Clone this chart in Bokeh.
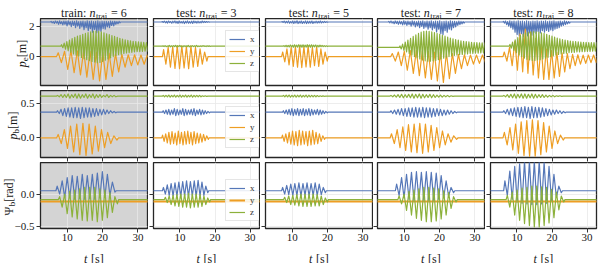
import math
from bokeh.plotting import figure
from bokeh.layouts import gridplot
from bokeh.models import Label, Legend, LegendItem, FixedTicker, Range1d
from bokeh.embed import file_html
from bokeh.resources import INLINE

# ---------------- data ----------------
N_TRAJ = [6, 3, 5, 7, 8]
SPLIT = ["train:", "test:", "test:", "test:", "test:"]
X_TICKS = [10, 20, 30]
X_RANGE = (2.44, 32.7)
ROW_YRANGE = [(-1.9, 2.5), (-0.28, 0.68), (-0.525, 0.48)]
ROW_YTICKS = [[0, 2], [0.0, 0.5], [-0.5, 0.0]]
ROW_YTICK_LABELS = [["0", "2"], ["0.0", "0.5"], ["\u22120.5", "0.0"]]
T_END = 35.0

# ---- row 1: p_e ----
pe_x_base = [2.27, 2.27, 2.27, 2.27, 2.27]
pe_x_on = [5.3, 4.8, 7.0, 5.5, 6.0]
pe_x_per = [0.6, 0.6, 0.6, 0.6, 0.6]
pe_x_up = [
    [2.31,2.3,2.33,2.31,2.34,2.3,2.33,2.32,2.35,2.3,2.33,2.31,2.34,2.3,2.32,2.33,2.3,2.34,2.31,2.33,2.3,2.32,2.34,2.3,2.33,2.31,2.32,2.3,2.33,2.31,2.32,2.3,2.31],
    [2.3,2.32,2.31,2.33,2.3,2.32,2.34,2.31,2.33,2.3,2.32,2.31,2.34,2.3,2.32,2.33,2.31,2.32,2.3,2.33,2.31,2.3,2.29],
    [2.3,2.32,2.31,2.34,2.3,2.33,2.32,2.35,2.31,2.33,2.3,2.34,2.32,2.31,2.33,2.3,2.32,2.31,2.33,2.3,2.31,2.29],
    [2.31,2.33,2.3,2.34,2.31,2.33,2.3,2.35,2.31,2.33,2.3,2.34,2.32,2.3,2.33,2.31,2.34,2.3,2.33,2.31,2.35,2.3,2.33,2.31,2.34,2.3,2.32,2.33,2.3,2.34,2.31,2.32,2.3,2.33,2.31,2.3],
    [2.31,2.33,2.3,2.34,2.31,2.33,2.3,2.35,2.31,2.33,2.3,2.34,2.32,2.3,2.33,2.31,2.34,2.3,2.33,2.31,2.35,2.3,2.33,2.31,2.34,2.3,2.32,2.33,2.3,2.34,2.31,2.3],
]
pe_x_low = [
    [2.22,2.18,2.2,2.12,2.16,2.08,2.12,2.02,2.1,1.96,2.05,1.9,2.0,1.85,1.95,1.76,1.9,1.7,1.84,1.6,1.78,1.56,1.72,1.66,1.84,1.8,1.95,1.9,2.04,2.02,2.12,2.16,2.22],
    [2.24,2.22,2.2,2.23,2.19,2.22,2.2,2.18,2.21,2.2,2.17,2.21,2.19,2.2,2.18,2.22,2.2,2.21,2.22,2.23,2.24,2.25,2.26],
    [2.24,2.21,2.22,2.19,2.21,2.18,2.2,2.17,2.2,2.18,2.2,2.17,2.19,2.2,2.18,2.21,2.2,2.22,2.21,2.23,2.24,2.25],
    [2.22,2.2,2.16,2.18,2.12,2.15,2.08,2.12,2.05,2.1,2.0,2.06,1.95,2.02,1.9,1.98,1.85,1.94,1.8,1.9,1.75,1.86,1.62,1.8,1.5,1.44,1.7,1.6,1.8,1.75,1.9,1.95,2.05,2.1,2.15,2.2],
    [2.2,2.1,2.0,1.9,1.8,1.6,1.45,1.35,1.5,1.3,1.45,1.35,1.55,1.4,1.6,1.5,1.65,1.55,1.7,1.6,1.72,1.65,1.75,1.7,1.8,1.85,1.9,2.0,2.05,2.1,2.15,2.2],
]
pe_y_base = [0.0, 0.0, 0.0, 0.0, 0.0]
pe_y_on = [7.0, 5.0, 7.0, 6.2, 6.0]
pe_y_per = [1.8, 1.3, 1.2, 1.7, 1.5]
pe_y_up = [
    [0.25,0.35,0.4,0.38,0.4,0.36,0.3,0.28,0.22,0.18,0.14,0.12,0.12,0.1,0.1],
    [0.45,0.6,0.65,0.7,0.7,0.65,0.7,0.6,0.5,0.3],
    [0.3,0.5,0.6,0.65,0.7,0.65,0.7,0.6,0.65,0.5,0.3],
    [0.2,0.3,0.35,0.4,0.4,0.38,0.35,0.3,0.28,0.25,0.2,0.15,0.12,0.1,0.1,0.1],
    [0.3,0.6,1.0,1.5,1.8,1.6,1.2,0.8,0.5,0.4,0.3,0.25,0.2,0.15,0.12,0.1,0.1,0.1],
]
pe_y_low = [
    [-0.4,-0.85,-1.05,-1.2,-1.35,-1.5,-1.6,-1.5,-1.3,-1.0,-0.7,-0.6,-0.55,-0.5,-0.5],
    [-0.5,-0.7,-0.78,-0.8,-0.75,-0.8,-0.7,-0.65,-0.5,-0.3],
    [-0.35,-0.55,-0.65,-0.7,-0.72,-0.68,-0.7,-0.6,-0.65,-0.5,-0.3],
    [-0.3,-0.6,-0.9,-1.1,-1.25,-1.4,-1.5,-1.6,-1.7,-1.45,-1.1,-0.8,-0.6,-0.5,-0.45,-0.4],
    [-0.3,-0.6,-0.9,-1.0,-1.1,-1.2,-1.4,-1.5,-1.5,-1.4,-1.3,-1.0,-0.8,-0.6,-0.5,-0.45,-0.4,-0.4],
]
pe_z_base = [0.68, 0.68, 0.68, 0.6, 0.68]
pe_z_on = [8.2, 5.0, 7.5, 8.6, 7.8]
pe_z_per = [0.75, 0.6, 0.6, 0.75, 0.75]
pe_z_up = [
    [0.78,0.88,0.98,1.08,1.18,1.26,1.34,1.4,1.46,1.52,1.58,1.62,1.66,1.68,1.66,1.62,1.56,1.5,1.44,1.38,1.32,1.26,1.2,1.15,1.1,1.06,1.04,1.0,0.98,0.96,0.95,0.94,0.92],
    [0.71,0.72,0.7,0.73,0.71,0.72,0.74,0.71,0.73,0.7,0.72,0.71,0.73,0.7,0.72,0.71,0.73,0.7,0.71,0.72,0.7,0.71,0.7],
    [0.72,0.74,0.73,0.76,0.74,0.77,0.75,0.78,0.76,0.77,0.75,0.78,0.76,0.77,0.75,0.76,0.74,0.75,0.73,0.72,0.71],
    [0.7,0.82,0.95,1.08,1.2,1.32,1.42,1.52,1.6,1.66,1.68,1.66,1.62,1.58,1.52,1.46,1.4,1.34,1.28,1.22,1.16,1.12,1.08,1.04,1.0,0.98,0.96,0.94,0.92,0.92,0.9,0.9,0.9],
    [0.8,0.95,1.1,1.25,1.38,1.48,1.55,1.6,1.62,1.64,1.62,1.6,1.56,1.52,1.46,1.4,1.34,1.28,1.22,1.16,1.12,1.08,1.05,1.02,1.0,0.98,0.96,0.95,0.94,0.93,0.92,0.92,0.92,0.92],
]
pe_z_low = [
    [0.58,0.48,0.38,0.28,0.18,0.1,0.02,-0.06,-0.14,-0.2,-0.26,-0.32,-0.36,-0.4,-0.38,-0.32,-0.24,-0.16,-0.08,0.0,0.06,0.12,0.16,0.2,0.24,0.26,0.28,0.3,0.32,0.33,0.34,0.35,0.36],
    [0.66,0.65,0.66,0.64,0.66,0.65,0.64,0.66,0.65,0.64,0.66,0.65,0.64,0.66,0.65,0.66,0.65,0.66,0.66,0.67,0.66,0.67,0.67],
    [0.65,0.64,0.63,0.64,0.62,0.63,0.62,0.63,0.61,0.63,0.62,0.63,0.62,0.63,0.64,0.63,0.64,0.65,0.65,0.66,0.67],
    [0.5,0.4,0.3,0.2,0.1,0.0,-0.08,-0.15,-0.22,-0.28,-0.3,-0.3,-0.28,-0.25,-0.2,-0.15,-0.1,-0.05,0.0,0.04,0.08,0.1,0.12,0.14,0.16,0.18,0.2,0.2,0.22,0.22,0.24,0.24,0.25],
    [0.55,0.4,0.25,0.1,0.0,-0.1,-0.18,-0.22,-0.25,-0.25,-0.22,-0.2,-0.15,-0.1,-0.05,0.0,0.05,0.1,0.14,0.18,0.2,0.22,0.25,0.27,0.28,0.3,0.31,0.32,0.33,0.34,0.34,0.35,0.35,0.35],
]

# ---- row 2: p_b ----
pb_x_base = [0.37, 0.37, 0.37, 0.37, 0.37]
pb_x_on = [7.0, 5.0, 7.3, 6.0, 6.0]
pb_x_per = [1.0, 0.8, 0.8, 1.0, 1.0]
pb_x_up = [
    [0.39,0.41,0.42,0.43,0.43,0.44,0.43,0.44,0.43,0.43,0.42,0.42,0.41,0.41,0.4,0.39,0.38],
    [0.39,0.4,0.41,0.4,0.42,0.41,0.4,0.42,0.41,0.4,0.41,0.42,0.4,0.41,0.4,0.39,0.38],
    [0.39,0.4,0.41,0.42,0.41,0.42,0.41,0.42,0.41,0.42,0.41,0.4,0.41,0.4,0.39,0.38],
    [0.39,0.4,0.41,0.42,0.42,0.43,0.43,0.44,0.43,0.44,0.43,0.43,0.42,0.42,0.41,0.4,0.4,0.39,0.38],
    [0.39,0.41,0.42,0.43,0.44,0.44,0.45,0.44,0.45,0.44,0.44,0.43,0.42,0.41,0.4,0.4,0.39,0.38],
]
pb_x_low = [
    [0.35,0.32,0.31,0.3,0.29,0.29,0.28,0.29,0.3,0.3,0.31,0.32,0.33,0.34,0.35,0.36,0.36],
    [0.35,0.34,0.33,0.34,0.32,0.33,0.34,0.32,0.33,0.34,0.33,0.32,0.34,0.33,0.34,0.35,0.36],
    [0.35,0.34,0.33,0.32,0.33,0.32,0.33,0.32,0.33,0.32,0.33,0.34,0.33,0.34,0.35,0.36],
    [0.35,0.34,0.33,0.32,0.31,0.31,0.3,0.3,0.3,0.29,0.3,0.3,0.31,0.32,0.32,0.33,0.34,0.35,0.36],
    [0.35,0.33,0.32,0.31,0.3,0.29,0.29,0.28,0.29,0.29,0.3,0.31,0.32,0.33,0.34,0.35,0.35,0.36],
]
pb_y_base = [0.0, 0.0, 0.0, 0.0, 0.0]
pb_y_on = [7.0, 4.8, 7.0, 6.0, 6.0]
pb_y_per = [1.75, 0.9, 0.95, 1.6, 1.6]
pb_y_up = [
    [0.05,0.12,0.17,0.2,0.21,0.2,0.17,0.12,0.08,0.03],
    [0.04,0.06,0.08,0.09,0.07,0.1,0.08,0.09,0.1,0.08,0.09,0.07,0.06,0.05,0.03],
    [0.04,0.06,0.08,0.1,0.09,0.11,0.1,0.09,0.1,0.11,0.08,0.06,0.03],
    [0.06,0.12,0.16,0.19,0.2,0.21,0.2,0.18,0.15,0.1,0.06,0.03],
    [0.08,0.15,0.2,0.23,0.25,0.26,0.25,0.22,0.17,0.1,0.04],
]
pb_y_low = [
    [-0.08,-0.15,-0.2,-0.24,-0.25,-0.23,-0.19,-0.14,-0.08,-0.03],
    [-0.05,-0.07,-0.09,-0.08,-0.1,-0.08,-0.1,-0.09,-0.08,-0.1,-0.08,-0.07,-0.06,-0.04,-0.02],
    [-0.05,-0.07,-0.09,-0.1,-0.11,-0.1,-0.09,-0.11,-0.1,-0.09,-0.08,-0.05,-0.02],
    [-0.08,-0.14,-0.18,-0.2,-0.21,-0.22,-0.2,-0.18,-0.14,-0.1,-0.06,-0.02],
    [-0.1,-0.17,-0.22,-0.25,-0.26,-0.26,-0.24,-0.2,-0.15,-0.08,-0.03],
]
pb_z_base = [0.6, 0.6, 0.6, 0.6, 0.6]
pb_z_on = [7.0, 5.0, 7.3, 6.0, 6.0]
pb_z_per = [1.0, 0.8, 0.8, 1.0, 1.0]
pb_z_up = [
    [0.61,0.62,0.62,0.63,0.62,0.63,0.63,0.62,0.63,0.62,0.63,0.62,0.62,0.61,0.62,0.61,0.61,0.6],
    [0.61,0.61,0.615,0.61,0.615,0.61,0.615,0.61,0.615,0.61,0.615,0.61,0.61,0.61,0.605,0.605,0.6],
    [0.61,0.612,0.615,0.61,0.615,0.612,0.615,0.61,0.615,0.612,0.61,0.61,0.608,0.605,0.603,0.6],
    [0.61,0.615,0.62,0.625,0.62,0.625,0.63,0.625,0.63,0.625,0.62,0.625,0.62,0.615,0.615,0.61,0.61,0.605,0.6],
    [0.61,0.62,0.625,0.63,0.625,0.63,0.63,0.625,0.63,0.625,0.62,0.62,0.615,0.61,0.61,0.605,0.605,0.6],
]
pb_z_low = [
    [0.59,0.58,0.58,0.57,0.58,0.57,0.57,0.58,0.57,0.58,0.57,0.58,0.58,0.59,0.58,0.59,0.59,0.6],
    [0.59,0.59,0.585,0.59,0.585,0.59,0.585,0.59,0.585,0.59,0.585,0.59,0.59,0.59,0.595,0.595,0.6],
    [0.59,0.588,0.585,0.59,0.585,0.588,0.585,0.59,0.585,0.588,0.59,0.59,0.592,0.595,0.597,0.6],
    [0.59,0.585,0.58,0.575,0.58,0.575,0.57,0.575,0.57,0.575,0.58,0.575,0.58,0.585,0.585,0.59,0.59,0.595,0.6],
    [0.59,0.58,0.575,0.57,0.575,0.57,0.57,0.575,0.57,0.575,0.58,0.58,0.585,0.59,0.59,0.595,0.595,0.6],
]

# ---- row 3: Psi_b ----
ps_x_base = [0.05, 0.05, 0.05, 0.05, 0.05]
ps_x_on = [6.8, 5.0, 7.0, 7.5, 6.2]
ps_x_per = [1.42, 1.1, 1.15, 1.4, 1.4]
ps_x_up = [
    [0.12,0.2,0.25,0.28,0.27,0.3,0.28,0.3,0.32,0.34,0.3,0.18],
    [0.1,0.14,0.16,0.17,0.18,0.19,0.2,0.19,0.2,0.21,0.18,0.12],
    [0.1,0.13,0.15,0.16,0.17,0.16,0.17,0.16,0.17,0.15,0.1],
    [0.15,0.25,0.3,0.33,0.34,0.33,0.34,0.33,0.32,0.28,0.2,0.1],
    [0.2,0.35,0.42,0.46,0.5,0.5,0.5,0.5,0.48,0.42,0.3,0.12],
]
ps_x_low = [
    [0.0,-0.05,-0.06,-0.08,-0.07,-0.08,-0.07,-0.08,-0.06,-0.05,-0.02,0.03],
    [0.0,-0.02,-0.03,-0.03,-0.04,-0.03,-0.04,-0.03,-0.04,-0.03,-0.02,0.02],
    [0.0,-0.01,-0.02,-0.02,-0.03,-0.02,-0.03,-0.02,-0.02,-0.01,0.02],
    [-0.02,-0.06,-0.08,-0.1,-0.1,-0.1,-0.1,-0.1,-0.08,-0.06,-0.03,0.02],
    [-0.02,-0.08,-0.12,-0.14,-0.15,-0.16,-0.16,-0.15,-0.14,-0.1,-0.05,0.02],
]
ps_y_base = [-0.115, -0.115, -0.115, -0.115, -0.115]
ps_z_base = [-0.085, -0.085, -0.085, -0.085, -0.085]
ps_z_on = [7.5, 5.55, 7.57, 8.2, 6.9]
ps_z_per = [1.42, 1.1, 1.15, 1.4, 1.4]
ps_z_up = [
    [-0.04,0.0,0.04,0.06,0.08,0.1,0.1,0.1,0.08,0.06,0.02,-0.04],
    [-0.05,-0.03,-0.02,-0.01,0.0,0.0,0.01,0.0,0.0,-0.01,-0.03,-0.06],
    [-0.05,-0.03,-0.02,-0.01,0.0,0.0,0.0,0.0,-0.01,-0.03,-0.06],
    [-0.03,0.0,0.04,0.06,0.08,0.1,0.1,0.09,0.08,0.05,0.02,-0.04],
    [-0.02,0.03,0.06,0.09,0.1,0.12,0.12,0.11,0.1,0.07,0.03,-0.03],
]
ps_z_low = [
    [-0.2,-0.3,-0.35,-0.38,-0.4,-0.41,-0.4,-0.42,-0.4,-0.36,-0.28,-0.15],
    [-0.13,-0.16,-0.18,-0.19,-0.2,-0.2,-0.21,-0.2,-0.2,-0.19,-0.16,-0.12],
    [-0.13,-0.16,-0.17,-0.18,-0.19,-0.19,-0.19,-0.18,-0.18,-0.16,-0.12],
    [-0.15,-0.25,-0.32,-0.37,-0.4,-0.42,-0.42,-0.41,-0.38,-0.32,-0.22,-0.12],
    [-0.2,-0.32,-0.4,-0.45,-0.48,-0.5,-0.5,-0.48,-0.44,-0.36,-0.24,-0.12],
]

# ---------------- styling / layout ----------------
BLUE, ORANGE, GREEN = "#5577b8", "#ee9e24", "#8cb13b"
FONT = "Liberation Serif"
TXT = "#1a1a1a"
LABEL_COL_W = 36
FRAME_W = [107, 106, 107, 107, 106]
BORDER_L = [4, 5, 5, 4, 5]
BORDER_R = [1, 1, 1, 1, 2]
FRAME_H = [67, 67, 66]
BORDER_B = [5, 5, 18]
LEGEND_Y = [13, 9, 7]
YLAB_XC = [21, 12, 8]
TITLE_H = 18
XLAB_H = 17


def zigzag(base, on, per, ups, lows):
    t = [0.0, on]
    y = [base, base]
    for i, (u, l) in enumerate(zip(ups, lows)):
        t += [on + (i + 0.25) * per, on + (i + 0.75) * per]
        y += [u, l]
    end = on + len(ups) * per
    t += [end, max(end + 0.1, T_END)]
    y += [base, base]
    return t, y


def series(r, c):
    if r == 0:
        return [
            zigzag(pe_x_base[c], pe_x_on[c], pe_x_per[c], pe_x_up[c], pe_x_low[c]),
            zigzag(pe_y_base[c], pe_y_on[c], pe_y_per[c], pe_y_up[c], pe_y_low[c]),
            zigzag(pe_z_base[c], pe_z_on[c], pe_z_per[c], pe_z_up[c], pe_z_low[c]),
        ]
    if r == 1:
        return [
            zigzag(pb_x_base[c], pb_x_on[c], pb_x_per[c], pb_x_up[c], pb_x_low[c]),
            zigzag(pb_y_base[c], pb_y_on[c], pb_y_per[c], pb_y_up[c], pb_y_low[c]),
            zigzag(pb_z_base[c], pb_z_on[c], pb_z_per[c], pb_z_up[c], pb_z_low[c]),
        ]
    return [
        zigzag(ps_x_base[c], ps_x_on[c], ps_x_per[c], ps_x_up[c], ps_x_low[c]),
        ([0.0, T_END], [ps_y_base[c], ps_y_base[c]]),
        zigzag(ps_z_base[c], ps_z_on[c], ps_z_per[c], ps_z_up[c], ps_z_low[c]),
    ]


def lab(p, text, x, y, size="12px", style="normal", angle=0.0, align="left",
        baseline="alphabetic", y_units="screen"):
    p.add_layout(Label(x=x, y=y, x_units="screen", y_units=y_units, text=text,
                       text_font=FONT, text_font_size=size, text_font_style=style,
                       text_color=TXT, angle=angle, text_align=align,
                       text_baseline=baseline))


def text_fig(w, h, y_range=None):
    p = figure(frame_width=w, frame_height=h, min_border=0, min_border_left=0,
               min_border_right=0, min_border_top=0, min_border_bottom=0,
               frame_align=False,
               x_range=Range1d(0, w), y_range=y_range or Range1d(0, h),
               x_axis_location=None, y_axis_location=None,
               output_backend="svg", toolbar_location=None, tools="")
    p.outline_line_color = None
    p.grid.visible = False
    p.background_fill_color = "white"
    p.border_fill_color = "white"
    return p


def cell_w(c):
    return BORDER_L[c] + FRAME_W[c] + BORDER_R[c]


YLABELS = [("p", "e", " [m]", 6.0, 4.0, 20.3),
           ("p", "b", " [m]", 6.0, 4.5, 20.3),
           ("\u03a8", "b", " [rad]", 9.2, 4.5, 26.3)]

grid_rows = []

# ---- title row ----
trow = [None]
for c in range(5):
    p = text_fig(cell_w(c), TITLE_H)
    if c == 0:
        offs = (0, 28.3, 34.8, 50.0, 65.8)
    else:
        offs = (0, 23.0, 29.5, 44.5, 60.3)
    x0 = BORDER_L[c] + FRAME_W[c] / 2 - offs[4] / 2
    yb = 5.5
    lab(p, SPLIT[c], x0 + offs[0], yb)
    lab(p, "n", x0 + offs[1], yb, style="italic")
    lab(p, "traj", x0 + offs[2], yb - 2.5, size="8.5px")
    lab(p, "= %d" % N_TRAJ[c], x0 + offs[3], yb)
    trow.append(p)
grid_rows.append(trow)

# ---- panel rows ----
for r in range(3):
    fh = FRAME_H[r]
    ymin, ymax = ROW_YRANGE[r]
    s = (ymax - ymin) / fh
    # label column: y-axis label + tick labels, sharing the row's y scale
    L = text_fig(LABEL_COL_W, fh + BORDER_B[r], Range1d(ymin - BORDER_B[r] * s, ymax))
    a, sub, rest, wa, ws, wr = YLABELS[r]
    tot = wa + ws + wr
    y0 = BORDER_B[r] + fh / 2 - tot / 2
    xc = YLAB_XC[r]
    lab(L, a, xc, y0, style="italic" if a == "p" else "normal", angle=math.pi / 2,
        baseline="middle")
    lab(L, sub, xc + 3, y0 + wa, size="9px", angle=math.pi / 2, baseline="middle")
    lab(L, rest, xc, y0 + wa + ws, angle=math.pi / 2, baseline="middle")
    for tv, tl in zip(ROW_YTICKS[r], ROW_YTICK_LABELS[r]):
        lab(L, tl, LABEL_COL_W - 2, tv, size="11px", align="right", baseline="middle",
            y_units="data")
    row = [L]
    for c in range(5):
        fw = FRAME_W[c]
        p = figure(frame_width=fw, frame_height=fh,
                   min_border_left=BORDER_L[c], min_border_right=BORDER_R[c],
                   min_border_top=0, min_border_bottom=BORDER_B[r],
                   frame_align=False,
                   x_range=Range1d(*X_RANGE), y_range=Range1d(ymin, ymax),
                   output_backend="svg", toolbar_location=None, tools="")
        p.background_fill_color = "#d4d4d4" if c == 0 else "white"
        p.border_fill_color = "white"
        p.outline_line_color = "#262626"
        p.outline_line_width = 1.3
        p.xaxis.ticker = FixedTicker(ticks=X_TICKS)
        p.yaxis.ticker = FixedTicker(ticks=ROW_YTICKS[r])
        p.xaxis.major_label_overrides = {v: str(v) for v in X_TICKS}
        for ax in p.axis:
            ax.axis_line_color = None
            ax.major_tick_out = 4
            ax.major_tick_in = 0
            ax.minor_tick_out = 0
            ax.minor_tick_in = 0
            ax.major_tick_line_color = "#333333"
            ax.major_tick_line_width = 1
            ax.major_label_text_font = FONT
            ax.major_label_text_font_size = "11px"
            ax.major_label_text_color = TXT
            ax.major_label_standoff = 1
        p.yaxis.major_label_text_font_size = "0px"
        p.yaxis.major_label_text_color = None
        p.yaxis.major_label_standoff = 0
        if r != 2:
            p.xaxis.major_label_text_font_size = "0px"
            p.xaxis.major_label_text_color = None
            p.xaxis.major_label_standoff = 0
        p.grid.grid_line_color = "#e9e9e9"
        p.grid.grid_line_width = 0.8

        rends = []
        for (t, y), col in zip(series(r, c), [BLUE, ORANGE, GREEN]):
            lw = 2.0 if (r == 2 and col == ORANGE) else 1.2
            rends.append(p.line(t, y, line_color=col, line_width=lw, line_join="round"))

        if c == 1:
            leg = Legend(items=[LegendItem(label=n, renderers=[rr])
                                for n, rr in zip(["x", "y", "z"], rends)],
                         location=(72, LEGEND_Y[r]))
            leg.label_text_font = FONT
            leg.label_text_font_size = "9px"
            leg.label_text_color = "#333333"
            leg.glyph_width = 16
            leg.glyph_height = 8
            leg.label_height = 8
            leg.label_standoff = 5
            leg.spacing = 2
            leg.padding = 3
            leg.margin = 0
            leg.border_line_color = "#cccccc"
            leg.border_line_width = 1
            leg.background_fill_alpha = 0.85
            p.add_layout(leg)
        row.append(p)
    grid_rows.append(row)

# ---- x-label row ----
xrow = [None]
for c in range(5):
    p = text_fig(cell_w(c), XLAB_H)
    x0 = BORDER_L[c] + FRAME_W[c] / 2 - 10
    lab(p, "t", x0, 5, style="italic")
    lab(p, "[s]", x0 + 7, 5)
    xrow.append(p)
grid_rows.append(xrow)

grid = gridplot(grid_rows, toolbar_location=None)
open("out.html", "w").write(file_html(grid, INLINE))
